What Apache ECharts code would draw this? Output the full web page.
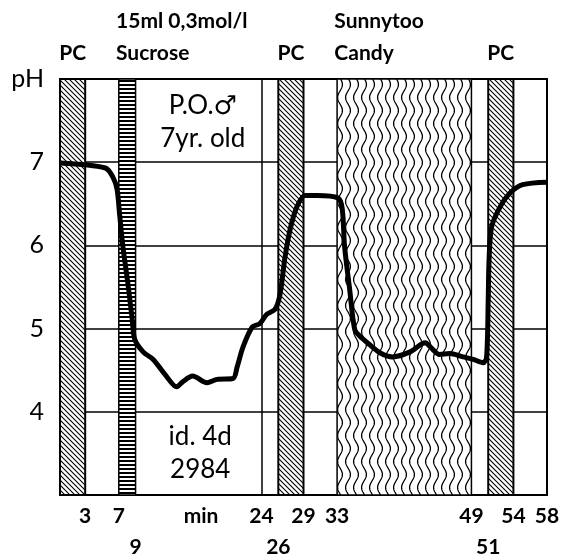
<!DOCTYPE html>
<html lang="en">
<head>
    <meta charset="UTF-8">
    <title>pH curve</title>
</head>
<body style="margin: 0; background: #fff">
<div id="container" style="height: 558px; width: 568px;"></div>
<script type="text/javascript" src="https://cdn.jsdelivr.net/npm/echarts@6/dist/echarts.min.js"></script>
<script type="text/javascript">
    // readings: minutes after start / plaque pH
    const minutes = [0, 5.4, 6.3, 6.8, 7.1, 7.5, 8.1, 8.6, 8.9, 9.9, 11.1, 12.5, 13.9, 14.6, 15.8, 17.5, 18.7,
        20.6, 21.1, 21.8, 22.9, 23.8, 24.6, 25.6, 26.2, 26.8, 27.4, 28.2, 29.2, 30.6, 33.1, 33.6, 33.9, 34.5,
        35.1, 35.7, 36.6, 38.1, 39.6, 41.7, 43.5, 44.1, 45.2, 46.4, 48.0, 49.2, 50.4, 50.8, 51.0, 51.1, 51.4,
        52.4, 53.6, 55.1, 58];
    const pH = [6.99, 6.93, 6.82, 6.67, 6.37, 5.98, 5.53, 5.11, 4.87, 4.72, 4.63, 4.45, 4.30, 4.36, 4.43, 4.35, 4.39,
        4.40, 4.54, 4.78, 5.02, 5.06, 5.17, 5.23, 5.41, 5.86, 6.19, 6.46, 6.60, 6.60, 6.57, 6.45, 5.98, 5.47,
        4.99, 4.91, 4.83, 4.71, 4.66, 4.72, 4.83, 4.78, 4.69, 4.70, 4.66, 4.63, 4.59, 4.65, 5.35, 5.83, 6.22,
        6.46, 6.63, 6.73, 6.76];

    // shaded periods
    const bandStart = [0, 7, 26, 33, 51];
    const bandEnd = [3, 9, 29, 49, 54];
    const bandText = ['PC', '15ml 0,3mol/l\nSucrose', 'PC', 'Sunnytoo\nCandy', 'PC'];
    const bandFill = ['diag', 'stripe', 'diag', 'wave', 'diag'];

    // tick labels
    const xTicksRow1 = [3, 7, 16.8, 24, 29, 33, 49, 54, 58];
    const xTextRow1 = ['3', '7', 'min', '24', '29', '33', '49', '54', '58'];
    const xTicksRow2 = [9, 26, 51];
    const xTextRow2 = ['9', '26', '51'];
    const yTicks = [3, 4, 5, 6, 7, 8];
    const yText = ['', '4', '5', '6', '7', 'pH'];

    // notes written in the plot
    const notePos = [[17, 7.48], [16.7, 3.5]];
    const noteText = ['P.O.\u2642\n7yr. old', 'id. 4d\n2984'];

    const extraLine = 24;

    function makePattern(kind) {
        const c = document.createElement('canvas');
        const ctx = c.getContext('2d');
        if (kind === 'diag') {
            c.width = 5; c.height = 5;
            ctx.fillStyle = '#fff';
            ctx.fillRect(0, 0, 5, 5);
            ctx.strokeStyle = '#000';
            ctx.lineWidth = 1.1;
            ctx.beginPath();
            ctx.moveTo(-1, -1); ctx.lineTo(6, 6);
            ctx.moveTo(-1, 4); ctx.lineTo(1, 6);
            ctx.moveTo(4, -1); ctx.lineTo(6, 1);
            ctx.stroke();
        } else if (kind === 'stripe') {
            c.width = 4; c.height = 4;
            ctx.fillStyle = '#fff';
            ctx.fillRect(0, 0, 4, 4);
            ctx.fillStyle = '#000';
            ctx.fillRect(0, 0, 4, 2);
        } else {
            c.width = 8; c.height = 26;
            ctx.fillStyle = '#fff';
            ctx.fillRect(0, 0, 8, 26);
            ctx.strokeStyle = '#000';
            ctx.lineWidth = 1.3;
            ctx.beginPath();
            for (let y = -1; y <= 27; y += 0.5) {
                const x = 4 + 2.4 * Math.sin(2 * Math.PI * y / 26);
                if (y === -1) ctx.moveTo(x, y); else ctx.lineTo(x, y);
            }
            ctx.stroke();
        }
        return {image: c, repeat: 'repeat'};
    }

    const dom = document.getElementById('container');
    const myChart = echarts.init(dom, null, {renderer: 'canvas'});

    const lineData = minutes.map((m, i) => [m, pH[i]]);

    const areaData = bandStart.map((s, i) => {
        const oneLine = bandText[i].indexOf('\n') < 0;
        return [
            {
                xAxis: s,
                name: bandText[i],
                itemStyle: {
                    color: makePattern(bandFill[i]),
                    borderColor: '#000',
                    borderWidth: bandFill[i] === 'diag' ? 2 : 1.5
                },
                label: oneLine
                    ? {position: ['50%', -41], align: 'center'}
                    : {position: [-2, -73], align: 'left'}
            },
            {xAxis: bandEnd[i]}
        ];
    });

    const labelFont = {
        fontFamily: 'Lato, "DejaVu Sans", sans-serif',
        fontWeight: 'bold',
        fontSize: 21,
        color: '#000'
    };

    const option = {
        backgroundColor: '#fff',
        animation: false,
        grid: {
            left: 60, right: 21, top: 79, bottom: 63,
            show: true, borderColor: '#000', borderWidth: 2
        },
        xAxis: [
            {
                type: 'value', min: 0, max: 58,
                axisLine: {show: false},
                axisTick: {show: false},
                splitLine: {show: false},
                axisLabel: Object.assign({
                    customValues: xTicksRow1,
                    margin: 11,
                    formatter: v => xTextRow1[xTicksRow1.indexOf(v)]
                }, labelFont)
            },
            {
                type: 'value', min: 0, max: 58, position: 'bottom', offset: 31,
                axisLine: {show: false},
                axisTick: {show: false},
                splitLine: {show: false},
                axisLabel: Object.assign({
                    customValues: xTicksRow2,
                    margin: 11,
                    formatter: v => xTextRow2[xTicksRow2.indexOf(v)]
                }, labelFont)
            }
        ],
        yAxis: {
            type: 'value', min: 3, max: 8, interval: 1,
            axisLine: {show: false},
            axisTick: {show: false},
            splitLine: {show: true, lineStyle: {color: '#000', width: 1.5}},
            axisLabel: {
                margin: 16,
                fontFamily: 'Lato, "DejaVu Sans", sans-serif',
                fontSize: 25,
                color: '#000',
                formatter: v => yText[yTicks.indexOf(v)]
            }
        },
        series: [
            {
                type: 'line',
                data: [],
                z: 1,
                markArea: {
                    silent: true,
                    label: Object.assign({show: true, lineHeight: 32}, labelFont),
                    data: areaData
                },
                markLine: {
                    silent: true,
                    symbol: 'none',
                    label: {show: false},
                    lineStyle: {color: '#000', width: 1.5, type: 'solid'},
                    data: [{xAxis: extraLine}]
                }
            },
            {
                type: 'line',
                data: lineData,
                z: 5,
                showSymbol: false,
                smooth: 0.3,
                lineStyle: {color: '#000', width: 5},
                itemStyle: {color: '#000'}
            },
            {
                type: 'scatter',
                data: notePos,
                z: 6,
                symbolSize: 0,
                itemStyle: {opacity: 1, color: '#000'},
                label: {
                    show: true,
                    position: 'inside',
                    fontFamily: 'Lato, "DejaVu Sans", sans-serif',
                    fontSize: 26,
                    lineHeight: 33,
                    color: '#000',
                    opacity: 1,
                    formatter: p => noteText[p.dataIndex]
                }
            }
        ]
    };
    myChart.setOption(option);
</script>
</body>
</html>
